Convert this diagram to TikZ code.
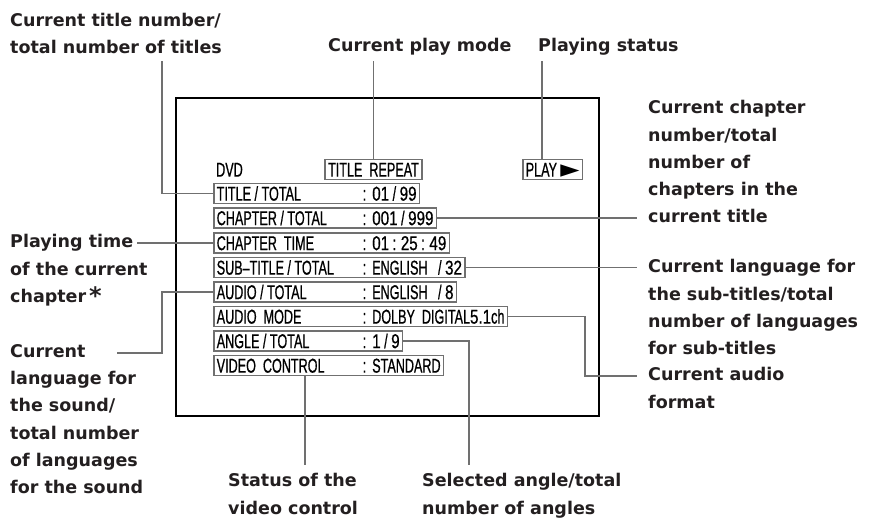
\documentclass[tikz,border=0pt]{standalone}
\usepackage{fontspec}
\setmainfont{DejaVu Sans}
\newfontfamily\osdfont[FakeStretch=0.63, FakeBold=0.7]{Liberation Sans}
\newfontfamily\osdnum[FakeStretch=0.76, FakeBold=0.7]{Liberation Sans}
\newfontfamily\symfont{DejaVu Sans}
\usetikzlibrary{positioning}

\definecolor{leadgray}{RGB}{112,112,112}
\definecolor{inkblack}{RGB}{35,31,32}
\newcommand{\osdline}[2]{\makebox[146pt][l]{#1}:\hspace{6pt}#2}
\newcommand{\dg}[1]{{\osdnum #1}}

\begin{document}
\begin{tikzpicture}[x=1pt, y=-1pt,
    lbl/.style={anchor=north west, inner sep=0pt, align=left, text=inkblack, font=\fontsize{17.5}{27.2}\selectfont\bfseries},
    osd/.style={anchor=west, inner xsep=3pt, inner ysep=1.5pt, text height=15.5pt, text depth=1.3pt, font=\osdfont\fontsize{20}{20}\selectfont},
    osdbox/.style={osd, draw=leadgray, line width=1.5pt},
    lead/.style={draw=leadgray, line width=1.4pt},
]
\useasboundingbox (0,0) rectangle (872,517);

% screen
\draw[line width=1.2pt] (176,98) rectangle (599,416);

\node[osd] (dvd) at (213,169.5) {DVD};
\node[osdbox, anchor=center] (rptbox) at (373.5,169.5) {TITLE\ \ REPEAT};
\node[osdbox] (playbox) at (522,169.5) {PLAY\,{\symfont\fontsize{25}{25}\selectfont\raisebox{-1pt}{►}}};

\node[osdbox] (titrow) at (213,193.5) {\osdline{TITLE / TOTAL}{\dg{01} / \dg{99}}};
\node[osdbox] (chaprow) at (213,218) {\osdline{CHAPTER / TOTAL}{\dg{001} / \dg{999}}};
\node[osdbox] (timerow) at (213,243) {\osdline{CHAPTER\ \ TIME}{\dg{01} : \dg{25} : \dg{49}}};
\node[osdbox] (subrow) at (213,267.5) {\osdline{SUB–TITLE / TOTAL}{ENGLISH\ \ \ / \dg{32}}};
\node[osdbox] (audrow) at (213,292) {\osdline{AUDIO / TOTAL}{ENGLISH\ \ \ / \dg{8}}};
\node[osdbox] (moderow) at (213,316.5) {\osdline{AUDIO\ \ MODE}{DOLBY\ \ DIGITAL\dg{5.1}ch}};
\node[osdbox] (angrow) at (213,341) {\osdline{ANGLE / TOTAL}{\dg{1} / \dg{9}}};
\node[osdbox] (vidrow) at (213,365.5) {\osdline{VIDEO\ \ CONTROL}{STANDARD\ }};

% labels
\node[lbl] (ttllab) at (10,12.8) {Current title number/\\total number of titles};
\node[lbl] (modelab) at (328,37.8) {Current play mode};
\node[lbl] (statlab) at (538,37.8) {Playing status};
\node[lbl] (chaplab) at (648,100.3) {Current chapter\\number/total\\number of\\chapters in the\\current title};
\node[lbl] (sublab) at (648,259.3) {Current language for\\the sub-titles/total\\number of languages\\for sub-titles};
\node[lbl] (fmtlab) at (648,367.3) {Current audio\\format};
\node[lbl] (ptlab) at (10,234.3) {Playing time\\of the current\\chapter\,{\fontsize{24}{24}\selectfont\raisebox{-2pt}{*}}};
\node[lbl] (sndlab) at (10,344.3) {Current\\language for\\the sound/\\total number\\of languages\\for the sound};
\node[lbl] (vidlab) at (228,473.3) {Status of the\\video control};
\node[lbl] (anglab) at (422,473.3) {Selected angle/total\\number of angles};

% leader ends
\coordinate (ttlend) at (162,61);
\coordinate (modeend) at (373.5,61);
\coordinate (statend) at (542,61);
\coordinate (rgtend) at (637,0);
\coordinate (fmtend) at (637,376);
\coordinate (angend) at (469,465);
\coordinate (vidend) at (305,465);
\coordinate (ptend) at (137,243);
\coordinate (sndend) at (117,353);

% leaders
\draw[lead] (titrow.west) -| (ttlend);
\draw[lead] (rptbox.north) -- (rptbox.north |- modeend);
\draw[lead] (statend |- playbox.north) -- (statend);
\draw[lead] (chaprow.east) -- (chaprow.east -| rgtend);
\draw[lead] (subrow.east) -- (subrow.east -| rgtend);
\draw[lead] (moderow.east) -| ([xshift=-52pt]fmtend) -- (fmtend);
\draw[lead] (angrow.east) -| (angend);
\draw[lead] (vidend |- vidrow.south) -- (vidend);
\draw[lead] (timerow.west) -- (ptend);
\draw[lead] (audrow.west) -| ([xshift=45pt]sndend) -- (sndend);

\end{tikzpicture}
\end{document}
